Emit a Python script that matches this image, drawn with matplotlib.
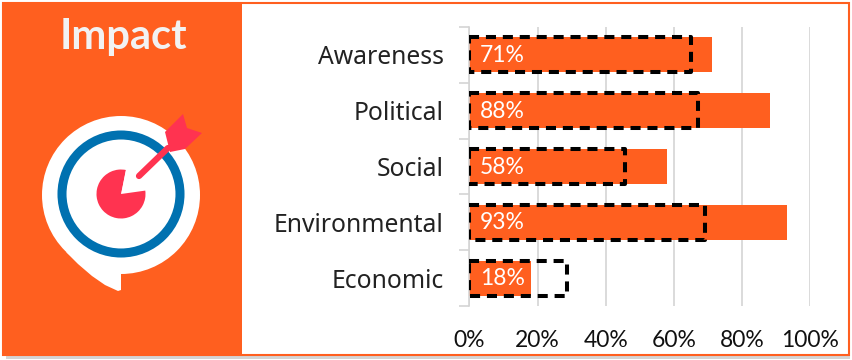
import matplotlib
matplotlib.use('Agg')
import matplotlib.pyplot as plt
from matplotlib.patches import Rectangle, Circle, Wedge, Polygon

categories = ['Awareness', 'Political', 'Social', 'Environmental', 'Economic']
actual = [71, 88, 58, 93, 18]
target = [65, 67, 45.5, 69, 28.5]
xticks = [0, 20, 40, 60, 80, 100]

orange = '#FF5F1F'
red = '#FF3350'
blue = '#0071B0'

W, H = 853, 360
fig = plt.figure(figsize=(W / 100, H / 100), dpi=100, facecolor='white')

# background panel and icon, drawn in pixel coords
bg = fig.add_axes([0, 0, 1, 1])
bg.set_xlim(0, W)
bg.set_ylim(H, 0)
bg.axis('off')
bg.add_patch(Rectangle((6, 8), 844, 351, color='#b8b8b8', alpha=0.6, lw=0))
bg.add_patch(Rectangle((3, 3), 846, 352, fc='white', ec=orange, lw=1.5))
bg.add_patch(Rectangle((3, 3), 239, 352, color=orange, lw=0))
bg.text(123, 37, 'Impact', color='#F2F2F2', fontsize=30, fontweight='bold',
        family='Lato', ha='center', va='center')

# speech bubble
bg.add_patch(Circle((121, 195), 79, color='white', lw=0))
bg.add_patch(Polygon([(66, 252), (78, 264), (92, 276), (105, 285), (118, 291),
                      (121, 290), (121, 265)], color='white', lw=0))
# target ring and pie
bg.add_patch(Circle((121, 194), 59, fc='none', ec=blue, lw=6.5))
bg.add_patch(Wedge((121, 194), 24.5, -8, 282, color=red, lw=0))
bg.add_patch(Polygon([(121.5, 193), (126, 169), (147, 187)], color='white', lw=0))
# dart
bg.plot([139, 168], [176, 148], color=red, lw=4.5, solid_capstyle='round')
bg.add_patch(Polygon([(165, 132), (183, 114), (187, 128), (202, 133),
                      (185, 149), (170, 152)], color=red, lw=0))

# chart
ax = fig.add_axes([469.5 / W, 1 - 306 / H, 341 / W, 279 / H])
ax.patch.set_alpha(0)
y = list(range(len(categories)))
ax.barh(y, actual, height=0.63, color=orange, zorder=2)
ax.barh(y, target, height=0.63, fill=False, edgecolor='black', linewidth=2.9,
        linestyle=(0, (2.5, 1.7)), joinstyle='round', zorder=3)
for i, v in enumerate(actual):
    ax.text(3.1, i + 0.01, f'{v}%', color='white', fontsize=16.5, family='Lato',
            ha='left', va='center', zorder=4)

ax.set_xlim(0, 100)
ax.set_ylim(4.5, -0.5)
ax.set_xticks(xticks)
ax.set_xticklabels([f'{t}%' for t in xticks], fontsize=16.5, family='Lato', color='#111111')
ax.set_yticks(y)
ax.set_yticklabels(categories, fontsize=17.8, family='Noto Sans', color='#222222')
ax.set_yticks([i - 0.5 for i in range(len(categories) + 1)], minor=True)
ax.tick_params(axis='x', length=0, pad=17)
ax.tick_params(axis='y', which='major', length=0, pad=18.5)
ax.tick_params(axis='y', which='minor', length=7.2, width=1.2, color='#D4D4D4')
ax.grid(axis='x', color='#D4D4D4', lw=1.2, zorder=0)
ax.set_axisbelow(True)
for s in ['top', 'right', 'bottom']:
    ax.spines[s].set_visible(False)
ax.spines['left'].set_color('#D4D4D4')
ax.spines['left'].set_linewidth(1.2)

fig.savefig('out.png', dpi=100)
